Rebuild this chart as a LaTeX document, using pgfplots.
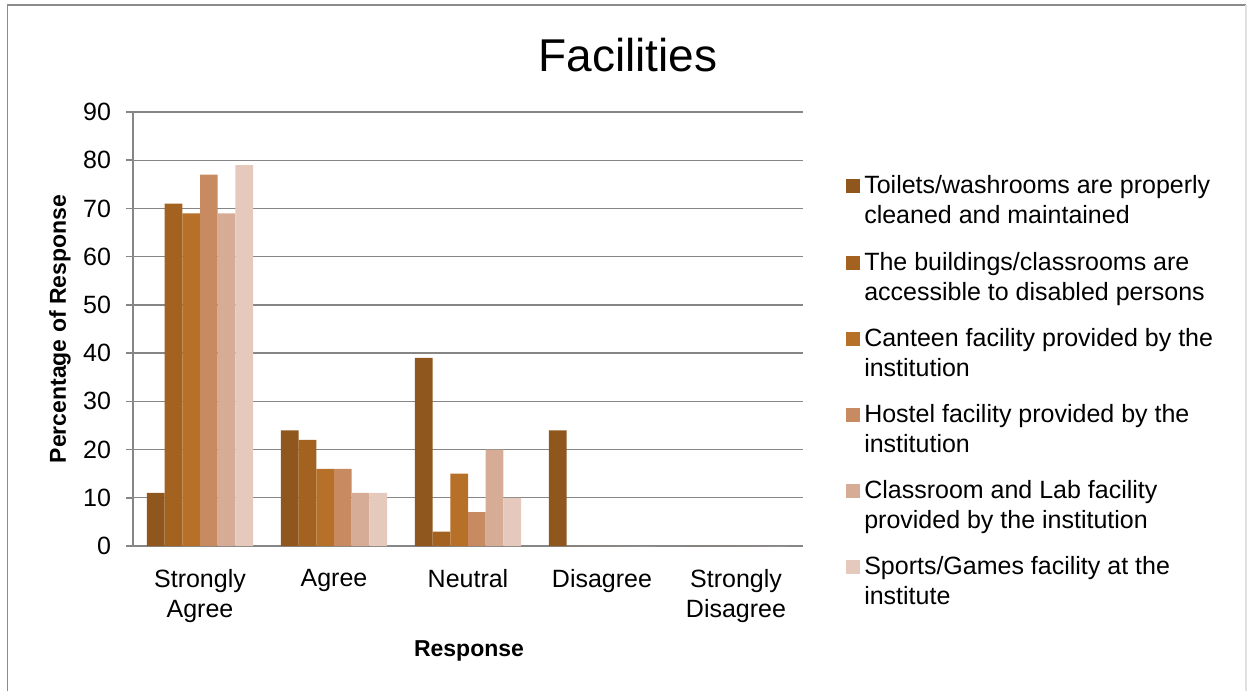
\documentclass[border=0pt]{standalone}
\usepackage{fontspec}
\setmainfont{Liberation Sans}
\usepackage{pgfplots}
\pgfplotsset{compat=1.18}
\definecolor{c1}{RGB}{143,87,29}
\definecolor{c2}{RGB}{163,98,31}
\definecolor{c3}{RGB}{183,112,40}
\definecolor{c4}{RGB}{200,138,97}
\definecolor{c5}{RGB}{215,172,150}
\definecolor{c6}{RGB}{229,201,188}
\definecolor{axgray}{RGB}{134,134,134}
\definecolor{framegray}{RGB}{140,140,140}
\pgfplotsset{
  % square legend key level with the first line of a two-line entry
  bb/.style={fill=#1, draw=none,
    legend image code/.code={\fill[#1] (0pt,4pt) rectangle (7pt,11pt);}},
}
\newcommand{\lbl}{\fontsize{12.5}{15}\selectfont}
\begin{document}
\begin{tikzpicture}
\useasboundingbox (0,0) rectangle (623.5pt,345.5pt);
% chart frame
\draw[framegray, line width=0.8pt] (3.75pt,0) -- (3.75pt,343pt) -- (623pt,343pt);
\draw[black!12, line width=0.6pt] (623pt,343pt) -- (623pt,0);
\node[font=\fontsize{23}{26}\selectfont] at (314pt,318pt) {Facilities};
\begin{axis}[
  at={(66.5pt,72.5pt)}, anchor=south west,
  scale only axis, width=335pt, height=217pt,
  ybar=0pt, bar width=0.132,
  ymin=0, ymax=90, ytick={0,10,...,90},
  xmin=-0.5, xmax=4.5, xtick={0,1,2,3,4},
  xticklabels={{Strongly\\Agree},Agree,Neutral,Disagree,{Strongly\\Disagree}},
  axis x line*=bottom, axis y line*=left,
  axis line style={draw=axgray, line width=0.75pt},
  ymajorgrids, grid style={draw=axgray, line width=0.65pt},
  xtick style={draw=none},
  ytick style={draw=axgray, line width=0.75pt},
  tick align=outside, major tick length=3.5pt,
  /pgf/number format/assume math mode=true,
  yticklabel style={font=\lbl, xshift=-4pt},
  xticklabel style={font=\lbl, align=center, yshift=-4.5pt},
  ylabel={Percentage of Response},
  xlabel={Response},
  ylabel style={font=\fontsize{11.5}{13}\selectfont\bfseries, at={(axis description cs:-0.109,0.5)}, anchor=center},
  xlabel style={font=\fontsize{11.5}{13}\selectfont\bfseries, at={(axis description cs:0.5015,-0.242)}, anchor=center},
  legend style={at={(axis description cs:1.064,0.863)}, anchor=north west,
    draw=none, fill=none, inner sep=0pt, row sep=8.5pt, font=\lbl,
    cells={anchor=west, align=left}},
]
\addplot[bb=c1] coordinates {(0,11)(1,24)(2,39)(3,24)(4,0)};
\addplot[bb=c2] coordinates {(0,71)(1,22)(2,3)(3,0)(4,0)};
\addplot[bb=c3] coordinates {(0,69)(1,16)(2,15)(3,0)(4,0)};
\addplot[bb=c4] coordinates {(0,77)(1,16)(2,7)(3,0)(4,0)};
\addplot[bb=c5] coordinates {(0,69)(1,11)(2,20)(3,0)(4,0)};
\addplot[bb=c6] coordinates {(0,79)(1,11)(2,10)(3,0)(4,0)};
\legend{{Toilets/washrooms are properly\\cleaned and maintained},
  {The buildings/classrooms are\\accessible to disabled persons},
  {Canteen facility provided by the\\institution},
  {Hostel facility provided by the\\institution},
  {Classroom and Lab facility\\provided by the institution},
  {Sports/Games facility at the\\institute}}
\end{axis}
\end{tikzpicture}
\end{document}
